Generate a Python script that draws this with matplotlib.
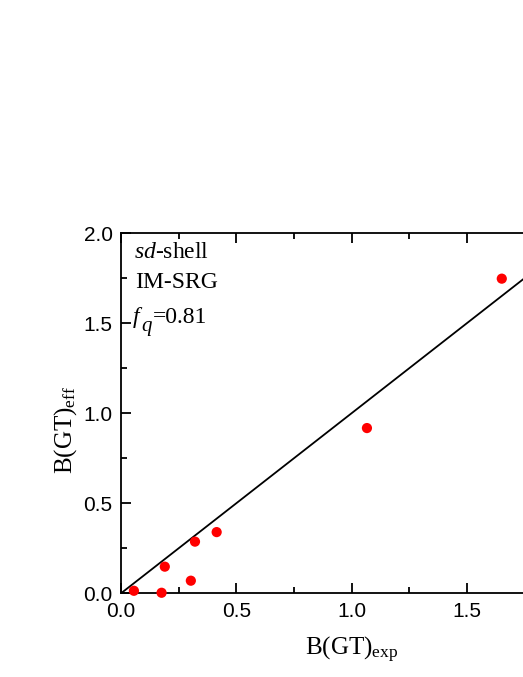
import matplotlib
matplotlib.use("Agg")
import matplotlib.pyplot as plt
from matplotlib.ticker import MultipleLocator, FixedLocator, FixedFormatter

# Data
bgt_exp = [0.056, 0.176, 0.19, 0.303, 0.321, 0.415, 1.067, 1.652]
bgt_eff = [0.014, 0.003, 0.148, 0.07, 0.287, 0.34, 0.918, 1.748]
line_x = [0.0, 2.0]
line_y = [0.0, 2.0]
xticks = [0.0, 0.5, 1.0, 1.5, 2.0]
xticklabels = ['0.0', '0.5', '1.0', '1.5', '']

plt.rcParams['mathtext.fontset'] = 'custom'
plt.rcParams['mathtext.rm'] = 'Liberation Serif'
plt.rcParams['mathtext.it'] = 'Liberation Serif:italic'

fig = plt.figure(figsize=(5.23, 6.77), dpi=100)
W, H = 523, 677
left, right, bottom, top = 121, 582, 593.3, 233.3
ax = fig.add_axes([left / W, (H - bottom) / H, (right - left) / W, (bottom - top) / H])

ax.plot(line_x, line_y, color='black', lw=1.3, zorder=2)
ax.scatter(bgt_exp, bgt_eff, s=54, color='red', edgecolors='none', zorder=3, clip_on=False)

ax.set_xlim(0, 2.0)
ax.set_ylim(0, 2.0)
ax.xaxis.set_major_locator(FixedLocator(xticks))
ax.xaxis.set_major_formatter(FixedFormatter(xticklabels))
ax.xaxis.set_minor_locator(MultipleLocator(0.25))
ax.yaxis.set_major_locator(MultipleLocator(0.5))
ax.yaxis.set_minor_locator(MultipleLocator(0.25))
ax.tick_params(which='both', direction='in', top=True, right=True, width=1.3,
               labelsize=15, pad=6)
ax.tick_params(which='major', length=7)
ax.tick_params(which='minor', length=4)
for lab in ax.get_xticklabels() + ax.get_yticklabels():
    lab.set_fontfamily('Liberation Sans')
for s in ax.spines.values():
    s.set_linewidth(1.3)

ax.set_xlabel(r'B(GT)$_{\rm exp}$', fontsize=18, family='Liberation Serif')
ax.set_ylabel(r'B(GT)$_{\rm eff}$', fontsize=18, family='Liberation Serif')
ax.xaxis.set_label_coords(0.5, (bottom - 635) / (bottom - top))
ax.yaxis.set_label_coords((79 - left) / (right - left), (bottom - 430) / (bottom - top))

def pt(px, py):
    return ((px - left) / (right - left), (bottom - py) / (bottom - top))

kw = dict(family='Liberation Serif', va='baseline', transform=ax.transAxes)
ax.text(*pt(134, 258), r'$sd$-shell', fontsize=17, **kw)
ax.text(*pt(135, 288), 'IM-SRG', fontsize=17, **kw)
ax.text(*pt(133, 323), 'f', fontsize=17, style='italic', **kw)
ax.text(*pt(141, 331), 'q', fontsize=15, style='italic', **kw)
ax.text(*pt(153, 323), '=0.81', fontsize=17, **kw)

fig.savefig('out.png', dpi=100)
